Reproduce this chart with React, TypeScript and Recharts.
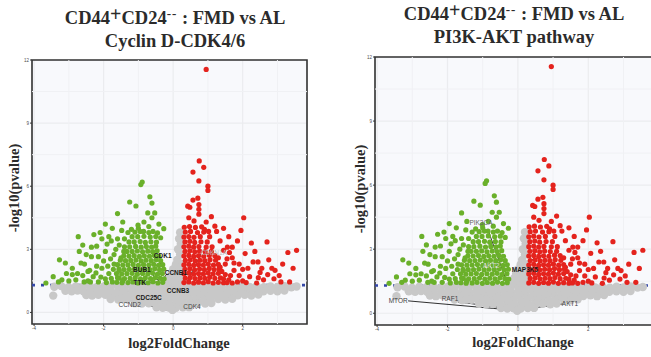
import { ScatterChart, Scatter, XAxis, YAxis, CartesianGrid, ReferenceLine, ReferenceDot, ReferenceArea } from "recharts";

type Pt = [number, number];

// axis ticks (log2FC on x, -log10 p on y)
const xTicks = [-4, -2, 0, 2];
const yTicks = [0, 3, 6, 9, 12];
const xMinor = [-3, -1, 1, 3];
const yMinor = [1.5, 4.5, 7.5, 10.5];
const xDomain: [number, number] = [-4.06, 3.85];
const yDomain: [number, number] = [-0.55, 12];
const pCutoff = 1.3;

// not significant genes (the grey cloud)
const stableGenes: Pt[] = [
  [-3.42, 1.22], [-3.22, 1.25], [-3.01, 1.2], [-2.8, 1.24], [-2.61, 1.21], [-2.4, 1.25], [-2.2, 1.2], [-1.99, 1.24],
  [-1.8, 1.21], [-1.59, 1.25], [-1.4, 1.2], [-1.19, 1.24], [-0.99, 1.21], [-0.8, 1.25], [-0.6, 1.2], [-0.39, 1.24],
  [-0.2, 1.21], [0.01, 1.25], [0.2, 1.2], [0.41, 1.24], [0.6, 1.21], [0.8, 1.25], [1.01, 1.2], [1.2, 1.24],
  [1.4, 1.21], [1.61, 1.25], [1.8, 1.2], [2.01, 1.24], [2.2, 1.21], [2.4, 1.25], [2.61, 1.2], [2.8, 1.24],
  [3.0, 1.21], [3.21, 1.25], [3.4, 1.2], [3.55, 1.23],
  [-3.1, 1.03], [-2.92, 1.0], [-2.75, 1.04],
  [-2.58, 1.0], [-2.39, 1.04], [-2.18, 1.01], [-1.98, 1.03], [-1.79, 1.0], [-1.58, 1.04], [-1.39, 1.01], [-1.18, 1.03],
  [-0.98, 1.0], [-0.79, 1.04], [-0.58, 1.01], [-0.38, 1.03], [-0.19, 1.0], [0.02, 1.04], [0.21, 1.01], [0.42, 1.03],
  [0.61, 1.0], [0.81, 1.04], [1.02, 1.01], [1.21, 1.03], [1.41, 1.0], [1.6, 1.04], [1.81, 1.01], [2.0, 1.03],
  [2.2, 1.0], [2.41, 1.04], [2.6, 1.01], [2.8, 1.03], [3.0, 1.0], [3.2, 1.04],
  [-2.5, 0.83], [-2.33, 0.8], [-2.15, 0.84],
  [-1.95, 0.84], [-1.74, 0.8], [-1.55, 0.83], [-1.34, 0.79], [-1.15, 0.82], [-0.94, 0.8], [-0.75, 0.83], [-0.54, 0.79],
  [-0.35, 0.82], [-0.14, 0.8], [0.05, 0.83], [0.26, 0.79], [0.45, 0.82], [0.66, 0.8], [0.85, 0.83], [1.06, 0.79],
  [1.25, 0.82], [1.46, 0.8], [1.65, 0.83], [1.86, 0.81], [2.06, 0.84], [2.25, 0.8], [2.45, 0.85],
  [-1.8, 0.64], [-1.58, 0.61], [-1.45, 0.64],
  [-1.32, 0.63], [-1.12, 0.6], [-0.91, 0.62], [-0.71, 0.59], [-0.52, 0.62], [-0.31, 0.6], [-0.12, 0.61], [0.09, 0.59],
  [0.28, 0.62], [0.49, 0.6], [0.68, 0.62], [0.89, 0.59], [1.08, 0.62], [1.3, 0.64], [1.5, 0.61], [1.7, 0.65],
  [-1.1, 0.44], [-0.9, 0.42],
  [-0.7, 0.43], [-0.5, 0.41], [-0.29, 0.42], [-0.1, 0.4], [0.11, 0.42], [0.3, 0.41], [0.51, 0.43], [0.71, 0.44],
  [0.92, 0.42], [1.1, 0.45],
  [-0.48, 0.24], [-0.3, 0.22], [-0.12, 0.23], [0.08, 0.22], [0.28, 0.24], [0.46, 0.25], [-0.02, 0.12],
  [-0.15, 1.45], [0.05, 1.43], [0.22, 1.47], [-0.1, 1.65], [0.1, 1.67], [0.25, 1.63], [-0.05, 1.85], [0.15, 1.88],
  [0.0, 2.05], [0.2, 2.08], [0.08, 2.28], [0.22, 2.3], [0.12, 2.5], [0.2, 2.75], [0.14, 3.0], [0.22, 3.25],
  [0.17, 3.5], [0.2, 3.8],
  [-3.45, 0.8],
];

// down-regulated, p < 0.05
const downGenes: Pt[] = [
  [-1.3, 1.42], [-1.16, 1.45], [-1.01, 1.4], [-0.87, 1.44], [-0.72, 1.41], [-0.58, 1.46], [-0.44, 1.4], [-0.3, 1.43],
  [-1.24, 1.62], [-1.09, 1.65], [-0.94, 1.6], [-0.8, 1.64], [-0.65, 1.61], [-0.51, 1.66], [-0.37, 1.62], [-0.26, 1.6],
  [-1.33, 1.84], [-1.18, 1.86], [-1.03, 1.82], [-0.88, 1.85], [-0.73, 1.83], [-0.59, 1.87], [-0.45, 1.82], [-0.31, 1.85],
  [-1.26, 2.05], [-1.11, 2.07], [-0.96, 2.03], [-0.82, 2.06], [-0.67, 2.04], [-0.53, 2.08], [-0.39, 2.03], [-0.27, 2.06],
  [-1.3, 2.26], [-1.15, 2.28], [-1.0, 2.24], [-0.85, 2.27], [-0.7, 2.25], [-0.56, 2.29], [-0.42, 2.24], [-0.3, 2.27],
  [-1.22, 2.47], [-1.07, 2.49], [-0.92, 2.45], [-0.78, 2.48], [-0.63, 2.46], [-0.49, 2.5], [-0.36, 2.46],
  [-1.27, 2.68], [-1.12, 2.7], [-0.97, 2.66], [-0.83, 2.69], [-0.68, 2.67], [-0.54, 2.71], [-0.41, 2.67],
  [-1.18, 2.9], [-1.03, 2.92], [-0.88, 2.88], [-0.73, 2.91], [-0.59, 2.89], [-0.46, 2.93],
  [-1.25, 3.12], [-1.08, 3.14], [-0.92, 3.1], [-0.77, 3.13], [-0.62, 3.11], [-0.5, 3.15],
  [-1.12, 3.35], [-0.95, 3.37], [-0.8, 3.33], [-0.64, 3.36], [-0.48, 3.34],
  [-1.02, 3.6], [-0.84, 3.62], [-0.66, 3.58], [-0.5, 3.61],
  [-1.62, 1.43], [-1.47, 1.41], [-1.55, 1.63], [-1.4, 1.61], [-1.63, 1.85], [-1.48, 1.83], [-1.56, 2.06], [-1.41, 2.04],
  [-1.6, 2.27], [-1.45, 2.25], [-1.52, 2.48], [-1.37, 2.46], [-1.42, 2.69], [-1.33, 2.9], [-1.4, 3.12], [-1.27, 3.35],
  [-1.18, 3.6], [-1.3, 3.8], [-1.1, 3.82], [-0.85, 3.85], [-0.7, 3.8], [-0.45, 3.78], [-1.0, 4.0],
  [-0.89, 6.2], [-0.93, 6.08], [-1.25, 5.25], [-1.07, 5.06], [-0.67, 5.5], [-0.61, 5.2], [-0.73, 4.73], [-0.53, 4.73],
  [-0.61, 4.5], [-0.84, 4.3], [-1.01, 4.15], [-0.41, 4.2], [-0.7, 4.08], [-1.2, 3.95], [-0.27, 3.98], [-1.45, 4.3],
  [-1.6, 4.7], [-1.75, 4.0], [-1.4, 3.5], [-0.36, 3.55], [-1.55, 3.2], [-1.85, 3.6], [-0.95, 3.85], [-0.58, 3.85],
  [-2.45, 1.5], [-2.3, 1.7], [-2.15, 1.45], [-2.05, 2.1], [-1.95, 1.6], [-1.85, 1.85], [-1.75, 1.45], [-1.7, 2.3],
  [-1.6, 1.65], [-1.55, 2.0], [-1.5, 2.6], [-1.45, 1.5], [-1.42, 2.9], [-1.65, 3.0], [-1.8, 2.55], [-2.0, 2.45],
  [-2.2, 2.2], [-2.4, 2.0], [-1.9, 3.25], [-2.35, 3.1], [-1.6, 3.5], [-2.05, 3.5], [-1.48, 3.9], [-2.6, 1.75],
  [-2.8, 1.55], [-2.9, 2.1], [-3.0, 1.5], [-3.3, 1.45], [-3.45, 1.7], [-2.65, 2.35], [-2.5, 2.75], [-2.35, 2.65],
  [-2.73, 3.6], [-2.1, 3.8], [-3.27, 2.5], [-3.1, 2.35], [-3.07, 1.85], [-2.75, 1.85], [-3.66, 1.4], [-2.56, 1.45],
  [-1.78, 1.62], [-1.92, 1.42], [-2.08, 1.68], [-1.72, 2.05], [-1.88, 2.2], [-2.22, 1.88], [-2.38, 1.45], [-1.7, 2.75],
  [-1.95, 2.9], [-2.15, 2.65], [-1.78, 3.4], [-2.2, 3.15], [-2.55, 2.3], [-2.7, 2.9], [-1.95, 4.2], [-2.28, 3.7],
  [-2.45, 1.95], [-2.9, 1.8], [-3.2, 1.55], [-2.6, 3.2],
];

// up-regulated, p < 0.05
const upGenes: Pt[] = [
  [0.31, 1.42], [0.45, 1.45], [0.59, 1.4], [0.73, 1.44], [0.87, 1.41], [1.01, 1.46], [1.15, 1.4], [1.3, 1.43], [1.45, 1.41],
  [0.35, 1.63], [0.49, 1.66], [0.63, 1.61], [0.77, 1.64], [0.91, 1.62], [1.05, 1.67], [1.2, 1.62], [1.36, 1.64],
  [0.31, 1.84], [0.45, 1.87], [0.59, 1.82], [0.73, 1.85], [0.87, 1.83], [1.01, 1.88], [1.15, 1.83], [1.3, 1.86],
  [0.34, 2.05], [0.48, 2.08], [0.62, 2.03], [0.76, 2.06], [0.9, 2.04], [1.04, 2.09], [1.18, 2.04],
  [0.31, 2.26], [0.45, 2.29], [0.59, 2.24], [0.73, 2.27], [0.87, 2.25], [1.01, 2.3], [1.16, 2.25],
  [0.35, 2.47], [0.49, 2.5], [0.63, 2.45], [0.77, 2.48], [0.91, 2.46], [1.06, 2.51],
  [0.31, 2.68], [0.45, 2.71], [0.59, 2.66], [0.73, 2.69], [0.88, 2.67], [1.04, 2.72],
  [0.34, 2.9], [0.48, 2.93], [0.62, 2.88], [0.76, 2.91], [0.92, 2.89],
  [0.31, 3.12], [0.45, 3.15], [0.59, 3.1], [0.74, 3.13], [0.95, 3.11],
  [0.34, 3.35], [0.48, 3.38], [0.62, 3.33], [0.8, 3.36],
  [0.31, 3.58], [0.45, 3.61], [0.6, 3.57],
  [0.35, 3.82], [0.5, 3.85], [0.7, 3.8],
  [0.32, 4.05], [0.47, 4.08], [0.64, 4.04],
  [1.32, 2.07], [1.45, 1.6], [1.3, 2.28], [1.22, 2.48], [1.2, 2.7], [1.1, 2.9], [1.12, 3.12], [0.98, 3.35],
  [0.78, 3.6], [0.88, 3.82], [0.82, 4.07], [1.02, 3.85],
  [0.95, 11.55], [0.75, 7.2], [0.88, 6.9], [0.57, 6.67], [0.74, 6.25], [1.0, 6.0], [1.0, 5.8], [0.57, 5.34],
  [0.71, 5.43], [0.42, 5.05], [0.48, 5.0], [0.74, 5.13], [0.74, 4.9], [2.03, 4.5], [0.74, 4.67], [0.45, 4.5],
  [0.6, 4.35], [0.95, 4.3], [1.1, 4.55], [1.2, 4.1], [0.9, 3.95], [1.05, 3.6], [1.25, 3.85],
  [1.56, 3.1], [2.07, 2.8], [1.7, 2.6], [1.45, 2.95], [1.9, 2.3], [2.2, 1.7], [2.84, 2.1], [2.72, 1.8],
  [2.9, 1.6], [2.4, 1.4], [1.6, 1.55], [1.75, 2.0], [1.5, 2.3], [2.0, 1.5], [2.3, 2.4], [2.55, 2.1],
  [1.35, 3.4], [1.6, 3.6], [1.85, 3.4], [1.45, 4.0], [3.3, 2.85], [3.55, 2.95], [3.35, 1.45], [3.05, 1.75],
  [2.6, 1.55], [1.4, 1.95], [1.65, 1.75], [1.85, 1.45], [1.3, 2.6], [2.15, 2.1], [1.35, 2.15], [1.7, 3.1],
  [2.35, 2.9], [1.95, 3.9], [2.7, 3.35], [2.44, 2.4], [2.93, 2.0],
  [1.55, 1.42], [1.7, 1.4], [2.1, 1.42], [2.5, 1.9], [2.75, 2.5], [3.15, 2.3], [2.25, 3.3], [1.75, 2.35],
  [1.62, 2.85], [2.0, 2.05], [1.9, 1.75], [2.45, 1.65], [3.1, 1.45], [3.45, 2.1], [1.5, 1.8], [1.55, 2.55],
];

type GeneLabel = { gene: string; at: Pt; from?: Pt; to?: Pt; bold?: boolean; color?: string };

const cyclinLabels: GeneLabel[] = [
  { gene: "CDK1", at: [-0.3, 2.73], from: [-0.35, 2.54], to: [-0.42, 1.75], bold: true },
  { gene: "BUB1", at: [-0.9, 2.06], from: [-0.67, 1.92], to: [-0.41, 1.49], bold: true },
  { gene: "TTK", at: [-0.96, 1.44], from: [-0.76, 1.44], to: [-0.38, 1.44], bold: true },
  { gene: "CDC25C", at: [-0.7, 0.73], from: [-0.56, 0.87], to: [-0.35, 1.3], bold: true },
  { gene: "CCNB3", at: [0.14, 1.02], from: [-0.12, 1.11], to: [-0.32, 1.3], bold: true },
  { gene: "CCNB1", at: [0.08, 1.92], from: [-0.18, 1.83], to: [-0.35, 1.44], bold: true },
  { gene: "CDKN1A", at: [1.17, 2.86], from: [0.8, 2.78], to: [0.37, 1.35], color: "#b8b8b8" },
  { gene: "CCND2", at: [-1.25, 0.4], from: [-0.87, 0.4], to: [-0.09, 0.07], color: "#444" },
  { gene: "CDK4", at: [0.54, 0.26], from: [0.08, 0.11], to: [0.28, 0.26], color: "#444" },
];

const aktLabels: GeneLabel[] = [
  { gene: "PIK3CA", at: [-1.05, 4.23], from: [-0.85, 3.9], to: [-0.11, 0.53], color: "#666" },
  { gene: "AKT2", at: [-0.76, 2.22], color: "#d4d4d4" },
  { gene: "MAP3K5", at: [0.2, 2.03], from: [0.31, 2.31], to: [0.46, 2.59], bold: true },
  { gene: "MTOR", at: [-3.4, 0.58], from: [-3.12, 0.58], to: [-0.17, 0.15], color: "#444" },
  { gene: "RAF1", at: [-1.93, 0.67], from: [-1.7, 0.53], to: [-0.17, 0.2], color: "#444" },
  { gene: "AKT1", at: [1.48, 0.48], from: [1.28, 0.44], to: [0.0, 0.15], color: "#444" },
];

const serif = '"Liberation Serif", "Times New Roman", serif';
const sans = '"Liberation Sans", Arial, sans-serif';
const GREY = "#C8C8C8";
const GREEN = "#6AB02A";
const RED = "#E4231D";

const toRows = (pts: Pt[]) => pts.map(([x, y]) => ({ x, y }));

const dot = (r: number, fill: string) => (p: any) => <circle cx={p.cx} cy={p.cy} r={r} fill={fill} />;

function Volcano({ width, height, margin, labels }: { width: number; height: number; margin: any; labels: GeneLabel[] }) {
  const tick = { fontSize: 4.5, fill: "#4d4d4d", fontFamily: sans };
  return (
    <ScatterChart width={width} height={height} margin={margin}>
      <CartesianGrid stroke="#EBECEF" strokeWidth={1.2} fill="#F8F9FC" />
      {xMinor.map((v) => (
        <ReferenceLine key={"vx" + v} x={v} stroke="#F0F1F4" strokeWidth={1} />
      ))}
      {yMinor.map((v) => (
        <ReferenceLine key={"hy" + v} y={v} stroke="#F0F1F4" strokeWidth={1} />
      ))}
      <XAxis type="number" dataKey="x" domain={xDomain} ticks={xTicks} allowDataOverflow height={33} axisLine={false} tickSize={2} tickLine={{ stroke: "#333" }} tick={tick} tickMargin={1} />
      <YAxis type="number" dataKey="y" domain={yDomain} ticks={yTicks} allowDataOverflow width={32} axisLine={false} tickSize={2} tickLine={{ stroke: "#333" }} tick={tick} tickMargin={1} />
      <ReferenceLine y={pCutoff} stroke="#3447A8" strokeWidth={2.6} strokeDasharray="3 6" />
      <Scatter data={toRows(stableGenes)} shape={dot(4.2, GREY)} isAnimationActive={false} />
      <Scatter data={toRows(downGenes)} shape={dot(2.6, GREEN)} isAnimationActive={false} />
      <Scatter data={toRows(upGenes)} shape={dot(2.6, RED)} isAnimationActive={false} />
      {labels.filter((l) => l.from && l.to).map((l) => (
        <ReferenceLine key={"seg" + l.gene} segment={[{ x: l.from![0], y: l.from![1] }, { x: l.to![0], y: l.to![1] }]} stroke="#1a1a1a" strokeWidth={0.9} />
      ))}
      {labels.map((l) => (
        <ReferenceDot
          key={"lab" + l.gene}
          x={l.at[0]}
          y={l.at[1]}
          r={0}
          shape={(p: any) => (
            <text x={p.cx} y={p.cy} textAnchor="middle" dominantBaseline="central" fontSize={6.5} fontFamily={sans} fontWeight={l.bold ? 700 : 400} fill={l.color || "#1a1a1a"}>
              {l.gene}
            </text>
          )}
        />
      ))}
      <ReferenceArea x1={xDomain[0]} x2={xDomain[1]} y1={yDomain[0]} y2={yDomain[1]} fill="none" stroke="#333" strokeWidth={1.6} />
    </ScatterChart>
  );
}

function Title({ cx, top1, top2, sub }: { cx: number; top1: number; top2: number; sub: string }) {
  const base: any = { position: "absolute", left: cx - 200, width: 400, textAlign: "center", fontFamily: serif, fontWeight: 700, fontSize: 18.5, lineHeight: "20px", color: "#2b2b2b", whiteSpace: "nowrap" };
  return (
    <>
      <div style={{ ...base, top: top1 }}>
        CD44<span style={{ position: "relative", top: -3, fontSize: 20 }}>+</span>CD24
        <span style={{ position: "relative", top: -6, fontSize: 13, letterSpacing: 1 }}>--</span> : FMD vs AL
      </div>
      <div style={{ ...base, top: top2 }}>{sub}</div>
    </>
  );
}

function AxisTitles({ yx, yy, xx, xy }: { yx: number; yy: number; xx: number; xy: number }) {
  const base: any = { position: "absolute", fontFamily: serif, fontWeight: 700, fontSize: 14.5, lineHeight: "16px", color: "#2b2b2b", whiteSpace: "nowrap", width: 140, textAlign: "center" };
  return (
    <>
      <div style={{ ...base, left: yx - 70, top: yy - 8, transform: "rotate(-90deg)" }}>-log10(pvalue)</div>
      <div style={{ ...base, left: xx - 70, top: xy - 8 }}>log2FoldChange</div>
    </>
  );
}

export default function App() {
  return (
    <div style={{ position: "absolute", left: 0, top: 0, width: 651, height: 357, overflow: "hidden", background: "#fff" }}>
      <div style={{ position: "absolute", left: 0, top: 0 }}>
        <Volcano width={325} height={357} margin={{ top: 60, right: 18, bottom: 0, left: 0 }} labels={cyclinLabels} />
      </div>
      <div style={{ position: "absolute", left: 345, top: 0 }}>
        <Volcano width={310} height={358} margin={{ top: 57, right: 1.6, bottom: 0, left: -2 }} labels={aktLabels} />
      </div>
      <Title cx={175} top1={7} top2={31} sub="Cyclin D-CDK4/6" />
      <Title cx={514} top1={3} top2={27} sub="PI3K-AKT pathway" />
      <AxisTitles yx={14} yy={188} xx={179} xy={343} />
      <AxisTitles yx={360} yy={189} xx={523} xy={342} />
    </div>
  );
}
